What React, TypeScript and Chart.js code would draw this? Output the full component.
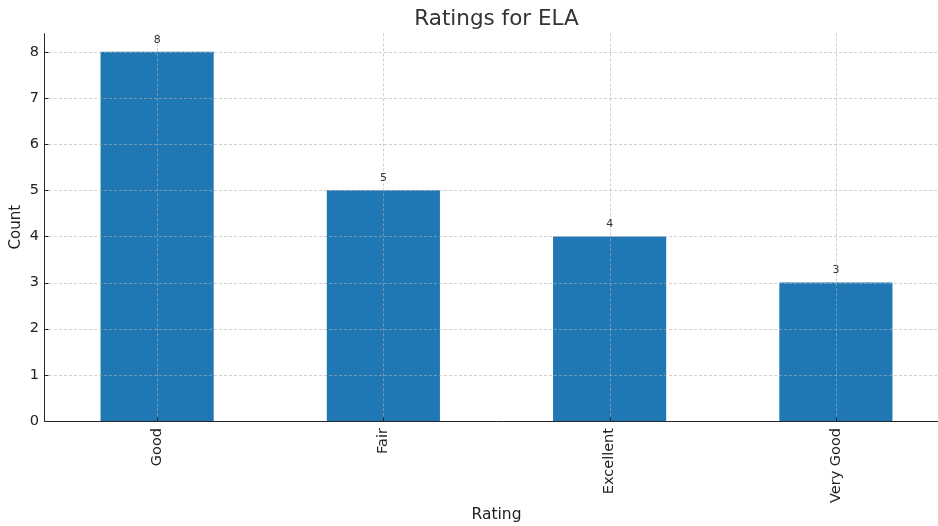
import React, { useEffect, useRef } from "react";
import { Chart, registerables } from "chart.js";

Chart.register(...registerables);

const categories = ["Good", "Fair", "Excellent", "Very Good"];
const counts = [8, 5, 4, 3];
const yTicks = [0, 1, 2, 3, 4, 5, 6, 7, 8];

const FONT = "'DejaVu Sans', sans-serif";

const overlayPlugin = {
  id: "overlay",
  afterDatasetsDraw(chart: any) {
    const { ctx, chartArea } = chart;
    const { left, right, top, bottom } = chartArea;
    const xs = chart.scales.x;
    const ys = chart.scales.y;
    ctx.save();
    // grid
    ctx.strokeStyle = "rgba(176,176,176,0.6)";
    ctx.lineWidth = 1;
    ctx.setLineDash([3, 2]);
    yTicks.forEach((v) => {
      const y = Math.round(ys.getPixelForValue(v)) + 0.5;
      ctx.beginPath();
      ctx.moveTo(left, y);
      ctx.lineTo(right, y);
      ctx.stroke();
    });
    categories.forEach((_, i) => {
      const x = Math.round(xs.getPixelForValue(i)) + 0.5;
      ctx.beginPath();
      ctx.moveTo(x, top);
      ctx.lineTo(x, bottom);
      ctx.stroke();
    });
    ctx.setLineDash([]);
    // spines
    ctx.strokeStyle = "#262626";
    ctx.lineWidth = 1;
    const lx = Math.round(left) + 0.5;
    const by = Math.round(bottom) + 0.5;
    ctx.beginPath();
    ctx.moveTo(lx, top);
    ctx.lineTo(lx, by);
    ctx.lineTo(right, by);
    ctx.stroke();
    // inward ticks
    yTicks.forEach((v) => {
      const y = Math.round(ys.getPixelForValue(v)) + 0.5;
      ctx.beginPath();
      ctx.moveTo(lx, y);
      ctx.lineTo(lx + 4, y);
      ctx.stroke();
    });
    categories.forEach((_, i) => {
      const x = Math.round(xs.getPixelForValue(i)) + 0.5;
      ctx.beginPath();
      ctx.moveTo(x, by);
      ctx.lineTo(x, by - 4);
      ctx.stroke();
    });
    // data labels
    ctx.fillStyle = "#333";
    ctx.font = `11px ${FONT}`;
    ctx.textAlign = "center";
    ctx.textBaseline = "middle";
    const meta = chart.getDatasetMeta(0);
    meta.data.forEach((bar: any, i: number) => {
      ctx.fillText(String(counts[i]), bar.x, bar.y - 12);
    });
    ctx.restore();
  },
};

export default function App() {
  const ref = useRef<HTMLCanvasElement | null>(null);
  useEffect(() => {
    if (!ref.current) return;
    const chart = new Chart(ref.current, {
      type: "bar",
      data: {
        labels: categories,
        datasets: [
          {
            data: counts,
            backgroundColor: "#1f77b4",
            borderWidth: 0,
            barPercentage: 0.5,
            categoryPercentage: 1,
          },
        ],
      },
      options: {
        responsive: false,
        animation: false,
        devicePixelRatio: 1,
        layout: { padding: 0 },
        plugins: {
          legend: { display: false },
          tooltip: { enabled: false },
          title: {
            display: true,
            text: "Ratings for ELA",
            fullSize: false,
            color: "#333",
            font: { family: FONT, size: 21.5, weight: "normal" },
            padding: { top: 7, bottom: 0.5 },
          },
        },
        scales: {
          x: {
            grid: { display: false, drawTicks: false },
            border: { display: false },
            ticks: {
              color: "#222",
              font: { family: FONT, size: 14.5 },
              maxRotation: 90,
              minRotation: 90,
              padding: 7,
            },
            title: {
              display: true,
              text: "Rating",
              color: "#222",
              font: { family: FONT, size: 15.5 },
              padding: { top: 0, bottom: 2 },
            },
            afterFit(scale: any) {
              scale.height = 105;
            },
          },
          y: {
            min: 0,
            max: 8.4,
            grid: { display: false, drawTicks: false },
            border: { display: false },
            ticks: {
              color: "#222",
              font: { family: FONT, size: 14.5 },
              padding: 5,
            },
            afterBuildTicks(scale: any) {
              scale.ticks = yTicks.map((v) => ({ value: v }));
            },
            title: {
              display: true,
              text: "Count",
              color: "#222",
              font: { family: FONT, size: 15 },
              padding: { top: 7, bottom: 0 },
            },
            afterFit(scale: any) {
              scale.width = 44;
            },
          },
        },
      },
      plugins: [overlayPlugin],
    });
    return () => chart.destroy();
  }, []);
  return (
    <div
      style={{
        position: "absolute",
        left: 0,
        top: 0,
        width: 938,
        height: 526,
        overflow: "hidden",
        background: "#fff",
      }}
    >
      <canvas ref={ref} width={949} height={526} style={{ display: "block" }} />
    </div>
  );
}
